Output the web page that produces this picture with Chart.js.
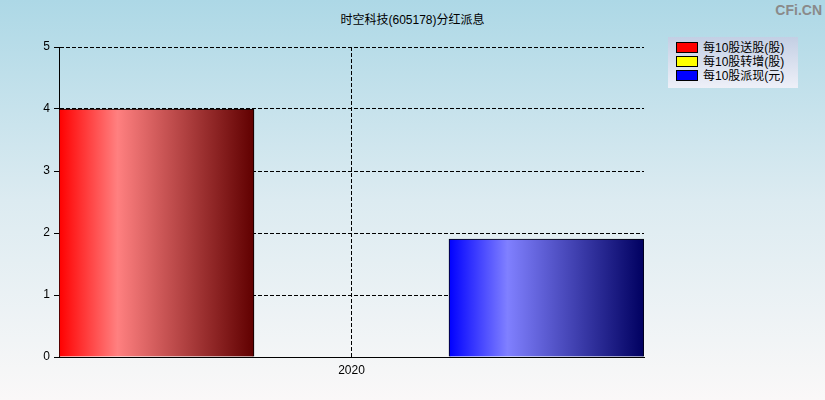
<!DOCTYPE html>
<html>
<head>
<meta charset="utf-8">
<script src="https://cdn.jsdelivr.net/npm/chart.js@4/dist/chart.umd.min.js"></script>
<style>
  html, body { margin: 0; padding: 0; }
  body {
    width: 825px; height: 400px; overflow: hidden; position: relative;
    background: linear-gradient(to bottom, #add8e6 0%, #dcebf1 50%, #faf8f8 100%);
    font-family: "Liberation Sans", "Noto Sans CJK SC", sans-serif;
  }
  #wrap { position: absolute; left: 0; top: 0; width: 825px; height: 400px; }
  #title { position: absolute; left: 0; width: 825px; top: 10px; text-align: center; font-size: 12px; color: #000; }
  #logo { position: absolute; right: 3px; top: 2px; font-size: 14px; font-weight: bold; color: #8a8a8a; font-family: "Liberation Sans", sans-serif; }
  #legend {
    position: absolute; left: 668px; top: 37px; width: 130px; height: 51px;
    background: linear-gradient(to bottom, #c3cfe4, #eef0f8);
    font-size: 12px; color: #000;
  }
  #legend div { position: absolute; left: 8px; height: 14px; line-height: 14px; white-space: nowrap; }
  #legend span.sw { display: inline-block; width: 20px; height: 9px; border: 1px solid #000; vertical-align: -1px; margin-right: 5px; }
</style>
</head>
<body>
<div id="title">时空科技(605178)分红派息</div>
<div id="logo">CFi.CN</div>
<div id="wrap"><canvas id="myChart" width="825" height="400"></canvas></div>
<div id="legend"></div>
<script>
var years = ['2020'];
var songgu = [4];      // 每10股送股(股)
var zhuanzeng = [0];   // 每10股转增(股)
var paixian = [1.9];   // 每10股派现(元)
var seriesNames = ['每10股送股(股)', '每10股转增(股)', '每10股派现(元)'];
var yTicks = [0, 1, 2, 3, 4, 5];

var swatch = ['#ff0000', '#ffff00', '#0000ff'];
var grads = [
  ['#ff0000', '#ff8080', '#600000'],
  ['#ffff00', '#ffff80', '#606000'],
  ['#0000ff', '#8080ff', '#000060']
];

var legend = document.getElementById('legend');
seriesNames.forEach(function (n, i) {
  var d = document.createElement('div');
  d.style.top = (4 + i * 14) + 'px';
  d.innerHTML = '<span class="sw" style="background:' + swatch[i] + '"></span>' + n;
  legend.appendChild(d);
});

function barFill(ctx) {
  var chart = ctx.chart;
  var x = chart.scales.x;
  var area = chart.chartArea;
  if (!x || !area) return swatch[ctx.datasetIndex];
  var cat = (area.right - area.left) / years.length;
  var left = x.getPixelForValue(ctx.dataIndex) - cat / 2 + ctx.datasetIndex * cat / 3;
  var g = chart.ctx.createLinearGradient(left, 0, left + cat / 3, 0);
  var c = grads[ctx.datasetIndex];
  g.addColorStop(0, c[0]);
  g.addColorStop(0.3, c[1]);
  g.addColorStop(1, c[2]);
  return g;
}

var font = { family: '"Liberation Sans", "Noto Sans CJK SC", sans-serif', size: 12 };

new Chart('myChart', {
  type: 'bar',
  data: {
    labels: years,
    datasets: [
      { label: seriesNames[0], data: songgu, backgroundColor: barFill, borderColor: '#000', borderWidth: 1 },
      { label: seriesNames[1], data: zhuanzeng, backgroundColor: barFill, borderColor: '#000', borderWidth: 1 },
      { label: seriesNames[2], data: paixian, backgroundColor: barFill, borderColor: '#000', borderWidth: 1 }
    ]
  },
  options: {
    responsive: false,
    animation: false,
    layout: { padding: { top: 47, right: 181, left: 0, bottom: 0 } },
    plugins: { legend: { display: false }, title: { display: false }, tooltip: { enabled: false } },
    datasets: { bar: { categoryPercentage: 1, barPercentage: 1 } },
    scales: {
      x: {
        afterFit: function (s) { s.height = 43; },
        grid: { offset: false, color: '#000', drawTicks: false, lineWidth: 1 },
        border: { color: '#000', width: 1, dash: [4, 2] },
        ticks: { color: '#000', font: font, padding: 6 }
      },
      y: {
        min: 0, max: 5,
        afterFit: function (s) { s.width = 59; },
        afterBuildTicks: function (s) { s.ticks = yTicks.map(function (v) { return { value: v }; }); },
        grid: { color: '#000', tickBorderDash: [], tickColor: '#000', tickLength: 5, lineWidth: 1 },
        border: { color: '#000', width: 1, dash: [4, 2] },
        ticks: { color: '#000', font: font, padding: 4 }
      }
    }
  }
});
</script>
</body>
</html>
